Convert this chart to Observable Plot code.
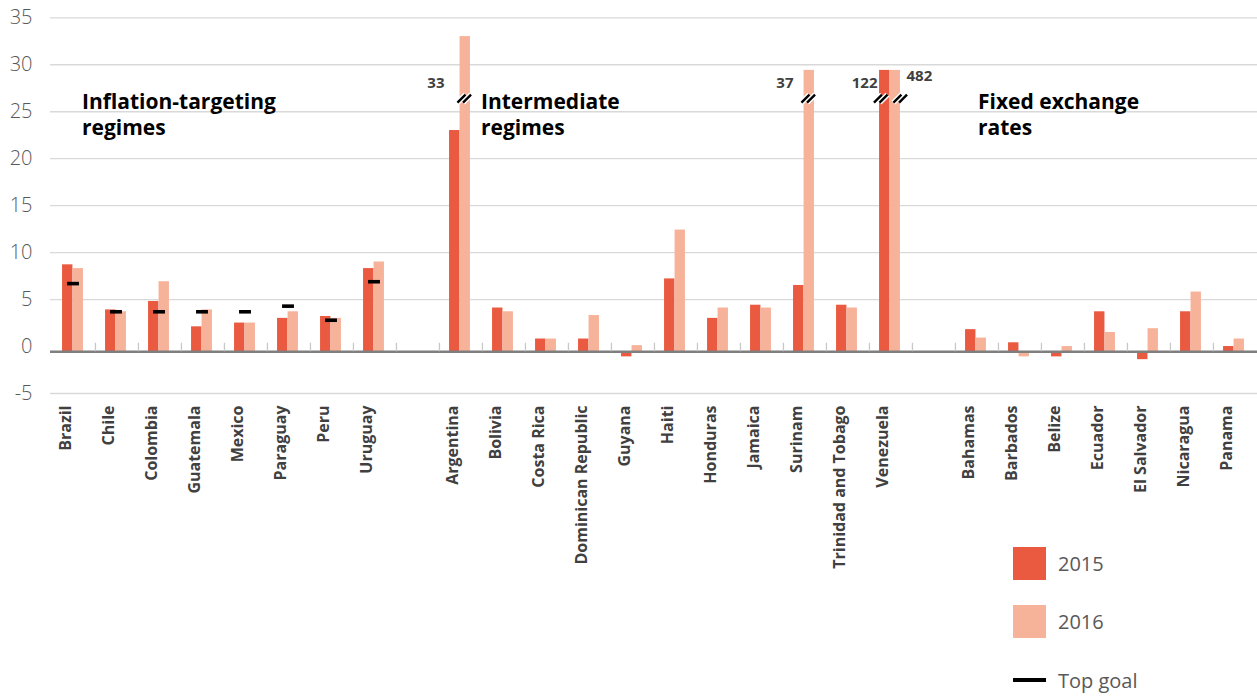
<!DOCTYPE html>
<html>
<head>
<meta charset="utf-8">
<script src="https://cdn.jsdelivr.net/npm/d3@7"></script>
<script src="https://cdn.jsdelivr.net/npm/@observablehq/plot@0.6"></script>
<style>
  body { margin: 0; background: #fff; font-family: "Open Sans", sans-serif; }
  #wrap { position: relative; width: 1257px; height: 696px; overflow: hidden; }
  #legend { position: absolute; left: 1013px; top: 0; }
  .item { position: absolute; left: 0; display: flex; align-items: center; white-space: nowrap; }
  .swatch { width: 33px; height: 33px; }
  .line { width: 33px; height: 4.5px; background: #000; }
  .item span { margin-left: 12px; font-size: 20px; color: #595959; font-weight: 400; }
</style>
</head>
<body>
<div id="wrap">
  <div id="chart"></div>
  <div id="legend"></div>
</div>
<script>
// Countries by exchange-rate regime
const inflationTargeting = ["Brazil", "Chile", "Colombia", "Guatemala", "Mexico", "Paraguay", "Peru", "Uruguay"];
const intermediate = ["Argentina", "Bolivia", "Costa Rica", "Dominican Republic", "Guyana", "Haiti", "Honduras", "Jamaica", "Surinam", "Trinidad and Tobago", "Venezuela"];
const fixedRates = ["Bahamas", "Barbados", "Belize", "Ecuador", "El Salvador", "Nicaragua", "Panama"];

// Inflation (%), in the order of the three lists above
const inflation2015 = [
  8.7, 3.9, 4.8, 2.1, 2.5, 3.0, 3.2, 8.3,
  23.0, 4.1, 0.8, 0.8, -1.1, 7.2, 3.0, 4.4, 6.5, 4.4, 122,
  1.8, 0.4, -1.1, 3.7, -1.4, 3.7, 0.0
];
const inflation2016 = [
  8.3, 3.7, 6.9, 3.9, 2.5, 3.7, 3.0, 9.0,
  33, 3.7, 0.8, 3.3, 0.1, 12.4, 4.1, 4.1, 37, 4.1, 482,
  0.9, -1.1, 0.0, 1.5, 1.9, 5.8, 0.8
];
// Upper bound of the inflation target, inflation-targeting countries
const topGoal = [6.7, 3.7, 3.7, 3.7, 3.7, 4.3, 2.8, 6.9];

// Bars shown with an axis break
const brokenBars = [["Argentina", "2016"], ["Surinam", "2016"], ["Venezuela", "2015"], ["Venezuela", "2016"]];

const yTicks = [-5, 0, 5, 10, 15, 20, 25, 30, 35];
const years = ["2015", "2016"];
const colors = ["#E95A41", "#F6B39A"];

// Scale settings
const yMax = 35;
const capLevel = 29.4;     // height at which off-scale bars are cut
const breakLevel = 26.4;   // where the break marks sit
const axisCross = -0.55;   // where the category axis crosses the value axis

const gapA = "gap-a", gapB = "gap-b";
const countries = [...inflationTargeting, gapA, ...intermediate, gapB, ...fixedRates];
const labelled = [...inflationTargeting, ...intermediate, ...fixedRates];

const rows2015 = labelled.map((country, i) => ({country, year: "2015", value: inflation2015[i]}));
const rows2016 = labelled.map((country, i) => ({country, year: "2016", value: inflation2016[i]}));
const goals = inflationTargeting.map((country, i) => ({country, goal: topGoal[i]}));
const lookup = new Map([...rows2015, ...rows2016].map(d => [d.country + "|" + d.year, d]));
const shown = v => (v > yMax ? capLevel : v);

const W = 1257, H = 696, mL = 50, mR = 0, mT = 17.3, mB = 303;
const step = (W - mL - mR) / countries.length;
const barW = 10.5;
const shift = 1;
const barDx = {"2015": -barW / 2 - shift, "2016": barW / 2 - shift};

// A double slash drawn as a dot symbol
const slashes = {
  draw(context) {
    for (const o of [-2.8, 2.8]) {
      context.moveTo(o - 4, 4);
      context.lineTo(o + 4, -4);
    }
  }
};

// Break marks on a cut bar; extra spreads the two marks of a pair apart
function breakMarks([country, year], extra = 0) {
  const data = [lookup.get(country + "|" + year)];
  const dx = barDx[year] + extra;
  return [
    Plot.dot(data, {x: "country", y: () => breakLevel, dx, symbol: slashes, r: 5,
      fill: "none", stroke: "white", strokeWidth: 5.5, strokeLinecap: "butt"}),
    Plot.dot(data, {x: "country", y: () => breakLevel, dx, symbol: slashes, r: 5,
      fill: "none", stroke: "black", strokeWidth: 2.4, strokeLinecap: "butt"})
  ];
}

function valueLabel(country, year, dx, anchor, level) {
  return Plot.text([lookup.get(country + "|" + year)], {
    x: "country", y: () => level, text: d => String(d.value), dx, textAnchor: anchor,
    fontSize: 15, fontWeight: 700, fill: "#404040"
  });
}

function groupTitle(country, title, dx) {
  return Plot.text([title], {
    x: () => country, y: () => 27.3, text: d => d, dx, textAnchor: "start", lineAnchor: "top",
    lineHeight: 1.25, fontSize: 21, fontWeight: 700, fill: "#000"
  });
}

const chart = Plot.plot({
  width: W, height: H,
  marginLeft: mL, marginRight: mR, marginTop: mT, marginBottom: mB,
  style: {fontFamily: '"Open Sans", sans-serif', background: "white", overflow: "visible"},
  x: {type: "band", domain: countries, padding: 0, axis: null},
  y: {domain: [-5, yMax], axis: null},
  marks: [
    // horizontal gridlines (the zero line is replaced by the category axis)
    Plot.ruleY(yTicks.filter(t => t !== 0), {stroke: "#d9d9d9", strokeWidth: 1.3}),
    // value axis labels
    Plot.text(yTicks, {y: d => d, text: d => String(d), frameAnchor: "left", textAnchor: "end", dx: -18,
      fontSize: 20, fontWeight: 300, fill: "#595959"}),
    // bars
    Plot.barY(rows2015, {x: "country", y1: axisCross, y2: d => shown(d.value), fill: colors[0],
      insetLeft: step / 2 - barW - shift, insetRight: step / 2 + shift}),
    Plot.barY(rows2016, {x: "country", y1: axisCross, y2: d => shown(d.value), fill: colors[1],
      insetLeft: step / 2 - shift, insetRight: step / 2 - barW + shift}),
    // category axis and its ticks between categories
    Plot.ruleY([axisCross], {stroke: "#7f7f7f", strokeWidth: 2.5}),
    Plot.ruleX(countries.slice(1), {x: d => d, dx: -step / 2, y1: axisCross, y2: 0.35,
      stroke: "#c8c8c8", strokeWidth: 1.3}),
    // target markers
    Plot.tickY(goals, {x: "country", y: "goal", stroke: "#000", strokeWidth: 3.6,
      insetLeft: (step - 12) / 2 - 0.5, insetRight: (step - 12) / 2 + 0.5}),
    // axis breaks and true values of the cut bars
    ...breakMarks(brokenBars[0], -1),
    ...breakMarks(brokenBars[1], -1),
    ...breakMarks(brokenBars[2], -4),
    ...breakMarks(brokenBars[3], 5),
    valueLabel("Argentina", "2016", -16.5, "end", 28.0),
    valueLabel("Surinam", "2016", -11.5, "end", 28.0),
    valueLabel("Venezuela", "2015", -13.5, "end", 28.0),
    valueLabel("Venezuela", "2016", 15.5, "start", 28.75),
    // regime headings
    groupTitle("Brazil", "Inflation-targeting\nregimes", 8),
    groupTitle("Argentina", "Intermediate\nregimes", 20),
    groupTitle("Bahamas", "Fixed exchange\nrates", 1),
    // country names
    Plot.text(labelled, {x: d => d, text: d => d, frameAnchor: "bottom", rotate: -90, textAnchor: "end",
      dy: 12, dx: -3, fontSize: 16, fontWeight: 700, fill: "#404040"})
  ]
});
document.getElementById("chart").append(chart);

// Legend
const legendItems = [
  {label: years[0], color: colors[0], top: 547, kind: "swatch"},
  {label: years[1], color: colors[1], top: 605, kind: "swatch"},
  {label: "Top goal", color: "#000", top: 678, kind: "line"}
];
const legend = d3.select("#legend");
for (const item of legendItems) {
  const row = legend.append("div").attr("class", "item")
    .style("top", (item.kind === "swatch" ? item.top : item.top - 13) + "px")
    .style("height", item.kind === "swatch" ? "33px" : "30px");
  row.append("div").attr("class", item.kind).style("background", item.color);
  row.append("span").text(item.label);
}
</script>
</body>
</html>
